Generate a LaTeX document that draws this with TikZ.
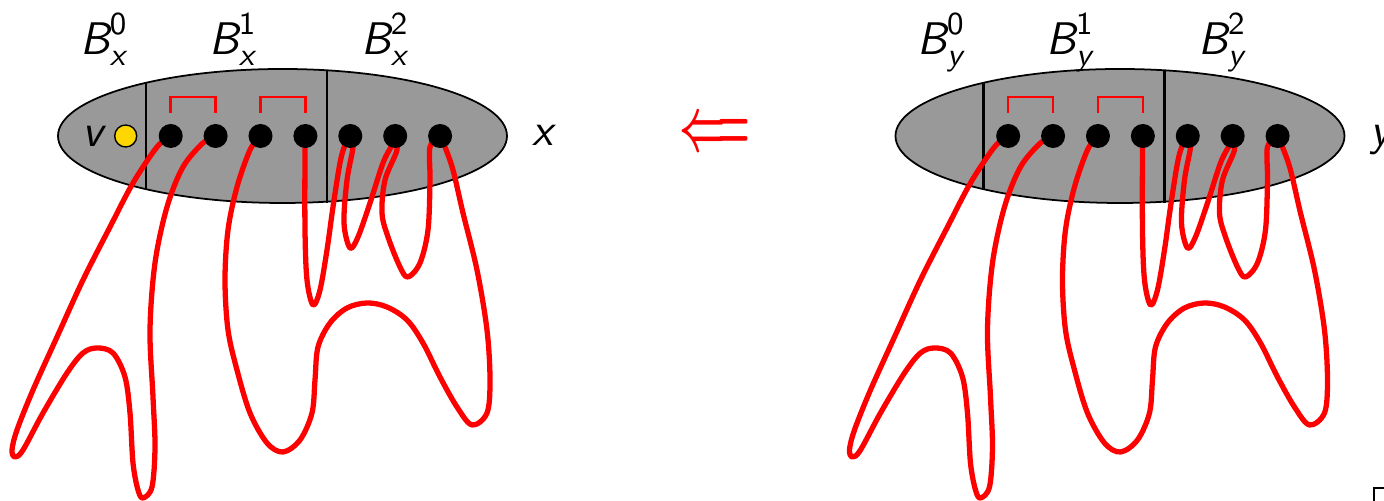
\documentclass[tikz,border=0pt]{standalone}
\usepackage{amsmath}
\usepackage{fontspec}

\definecolor{blobgray}{gray}{0.6}
\definecolor{vyellow}{RGB}{255,215,0}
\newcommand{\blab}[2]{$\textsf{\itshape B}^{\textsf{#2}}_{\textsf{\itshape #1}}$}

\begin{document}
\begin{tikzpicture}[x=0.01cm, y=0.01cm,
  font=\fontsize{13}{15}\selectfont\sffamily,
  dot/.style={circle, fill=black, inner sep=0pt, minimum size=2.4mm},
  vdot/.style={circle, draw=black, fill=vyellow, inner sep=0pt, minimum size=2.2mm, line width=0.4pt},
  strand/.style={red, line width=1.5pt, line join=round},
  pairline/.style={red, line width=0.7pt},
  lab/.style={anchor=base, inner sep=0pt}]
  \useasboundingbox (0,0) rectangle (1384,501);

  \foreach \g/\s in {x/0cm, y/8.37cm} {
    \begin{scope}[xshift=\s]
      % Menge mit drei Bloecken
      \filldraw[fill=blobgray, draw=black, line width=0.5pt] (282.5,365) ellipse (224.5 and 67);
      \draw[line width=0.8pt] (146,418) -- (146,312);
      \draw[line width=0.8pt] (327,431) -- (327,298);
      \foreach \i in {1,...,7}
        \coordinate (\g\i) at ({125.8+44.9*\i},365);

      % Beschriftung
      \node[lab] (\g b0) at (104,446) {\blab{\g}{0}};
      \node[lab] (\g b1) at (233,446) {\blab{\g}{1}};
      \node[lab] (\g b2) at (385,446) {\blab{\g}{2}};
      \node[lab] (\g name) at (543,355) {\itshape\g};

      % Paare
      \draw[pairline] ([yshift=2.3mm]\g1) |- ([yshift=3.9mm]\g2) -- ([yshift=2.3mm]\g2);
      \draw[pairline] ([yshift=2.3mm]\g3) |- ([yshift=3.9mm]\g4) -- ([yshift=2.3mm]\g4);

      % Wege
      \draw[strand] plot[smooth, tension=0.55] coordinates {(\g1) (157,354) (133,318) (110,274)
        (83,221) (57,164) (33,111) (17,71) (12,51) (15,44) (23,51) (43,88) (67,128) (83,148)
        (97,153) (113,148) (125,124) (130,88) (133,38) (138,11) (143,3) (152,14) (155,54)
        (153,104) (150,171) (155,238) (167,294) (183,334) (203,358) (\g2)};
      \draw[strand] plot[smooth, tension=0.55] coordinates {(\g4) (305,351) (305,271) (307,221)
        (313,196) (320,211) (327,251) (333,294) (340,338) (345,356) (\g5)
        (353,354) (347,321) (344,278) (350,253) (358,264) (370,298) (383,338) (392,356) (\g6)
        (397,351) (385,321) (382,288) (388,264) (400,234) (408,224) (420,238) (428,271)
        (430,321) (430,354) (\g7)
        (445,354) (453,331) (463,288) (477,231) (487,171) (490,121) (487,88) (472,76)
        (457,94) (440,124) (423,158) (407,181) (387,194) (367,198) (347,193) (330,178)
        (318,154) (315,121) (312,88) (300,61) (283,49) (267,58) (250,88) (237,131)
        (228,171) (225,221) (228,271) (237,314) (250,351) (\g3)};

      % Punkte
      \foreach \i in {1,...,7}
        \node[dot] (\g d\i) at (\g\i) {};
    \end{scope}
  }

  % Punkt v
  \node[vdot] (vdot) at (125.7,365) {};
  \node (vlab) at (93,365) {\itshape v};

  % Implikation
  \node[red, inner sep=0pt] (impl) at (715,367)
    {\scalebox{0.8}[1.45]{\fontsize{15}{15}\selectfont\boldmath$\Longleftarrow$}};

  % Rest am Rand
  \draw[line width=0.4pt] (1374,-5) -- (1374,13) -- (1400,13);
\end{tikzpicture}
\end{document}
